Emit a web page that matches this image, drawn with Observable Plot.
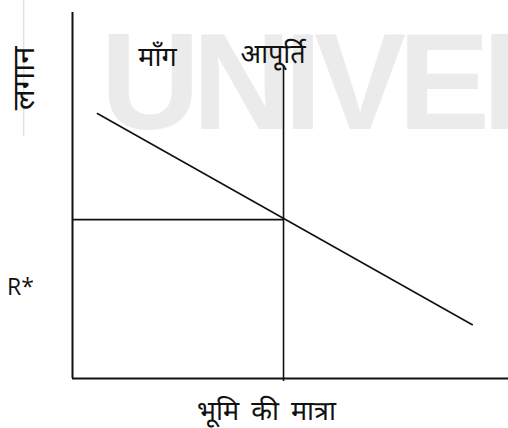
<!DOCTYPE html>
<html>
<head>
<meta charset="utf-8">
<script src="https://cdn.jsdelivr.net/npm/d3@7"></script>
<script src="https://cdn.jsdelivr.net/npm/@observablehq/plot@0.6"></script>
<style>
  html, body { margin: 0; padding: 0; background: #fff; }
  #chart svg { display: block; overflow: visible; }
</style>
</head>
<body>
<div id="chart"></div>
<script>
// Conceptual data (quantity of land on x, rent on y, both 0..10)
const axisQ = [0, 10];
const axisR = [0, 10];
const demandQ = [0.57, 9.17];
const demandR = [7.24, 1.47];
const supplyQ = [4.84];
const supplyR = [-0.08, 8.55];
const equilibriumR = [4.34];
const curveLabels = ["माँग", "आपूर्ति"];
const curveLabelQ = [1.95, 4.6];
const curveLabelR = [8.55, 8.63];
const rentStarLabel = ["R*"];
const rentStarQ = [-1.5];
const rentStarR = [2.47];
const xTitle = ["भूमि की मात्रा"];
const yTitle = ["लगान"];
const watermark = ["UNIVERSITY"];
const watermarkQ = [0.64];
const watermarkR = [6.83];
const edgeQ = [-1.12];
const edgeR = [6.6, 10.4];

const devFont = "'Noto Sans Devanagari', 'Nirmala UI', 'Lohit Devanagari', 'Noto Sans', sans-serif";

const demand = demandQ.map((q, i) => ({q, r: demandR[i]}));

const chart = Plot.plot({
  width: 508,
  height: 428,
  marginLeft: 72,
  marginRight: 0,
  marginTop: 12,
  marginBottom: 50,
  x: {domain: axisQ, axis: null},
  y: {domain: axisR, axis: null},
  style: {background: "#fff", overflow: "visible"},
  marks: [
    // faint watermark
    Plot.text(watermark, {x: () => watermarkQ[0], y: () => watermarkR[0], text: d => d,
      textAnchor: "start", lineAnchor: "bottom", fill: "#ebebeb",
      fontSize: 138, fontWeight: "bold", fontFamily: "'Liberation Sans', Arial, sans-serif",
      clip: false}),
    Plot.ruleX(edgeQ, {x: d => d, y1: edgeR[0], y2: edgeR[1], stroke: "#e2e2e2", strokeWidth: 1.5, clip: false}),
    // axes
    Plot.ruleX([axisQ[0]], {y1: axisR[0], y2: axisR[1], stroke: "#111", strokeWidth: 2}),
    Plot.ruleY([axisR[0]], {x1: axisQ[0], x2: axisQ[1], stroke: "#111", strokeWidth: 2}),
    // equilibrium rent line
    Plot.ruleY(equilibriumR, {x1: axisQ[0], x2: supplyQ[0], stroke: "#111", strokeWidth: 1.6}),
    // supply
    Plot.ruleX(supplyQ, {y1: supplyR[0], y2: supplyR[1], stroke: "#111", strokeWidth: 1.6, clip: false}),
    // demand
    Plot.line(demand, {x: "q", y: "r", stroke: "#111", strokeWidth: 1.6}),
    // labels
    Plot.text(curveLabels, {x: (d, i) => curveLabelQ[i], y: (d, i) => curveLabelR[i], text: d => d,
      fontSize: 27, fontFamily: devFont, fill: "#111", lineAnchor: "bottom"}),
    Plot.text(rentStarLabel, {x: () => rentStarQ[0], y: () => rentStarR[0], text: d => d,
      textAnchor: "start", fontSize: 23, fontFamily: "'Open Sans', 'Noto Sans', sans-serif", fill: "#111", clip: false}),
    Plot.text(xTitle, {x: () => 4.45, y: () => -1.14, text: d => d, lineAnchor: "bottom",
      fontSize: 27, fontFamily: devFont, fill: "#111", clip: false}),
    Plot.text(yTitle, {x: () => -1.12, y: () => 8.2, text: d => d, rotate: -90,
      fontSize: 31, fontFamily: devFont, fill: "#111", clip: false})
  ]
});
// typographic tweaks
d3.select(chart).selectAll("text").filter(function() {
  return this.textContent === watermark[0];
}).attr("letter-spacing", "-8px");
d3.select(chart).selectAll("text").filter(function() {
  return this.textContent === xTitle[0];
}).attr("word-spacing", "5px");
document.getElementById("chart").appendChild(chart);
</script>
</body>
</html>
